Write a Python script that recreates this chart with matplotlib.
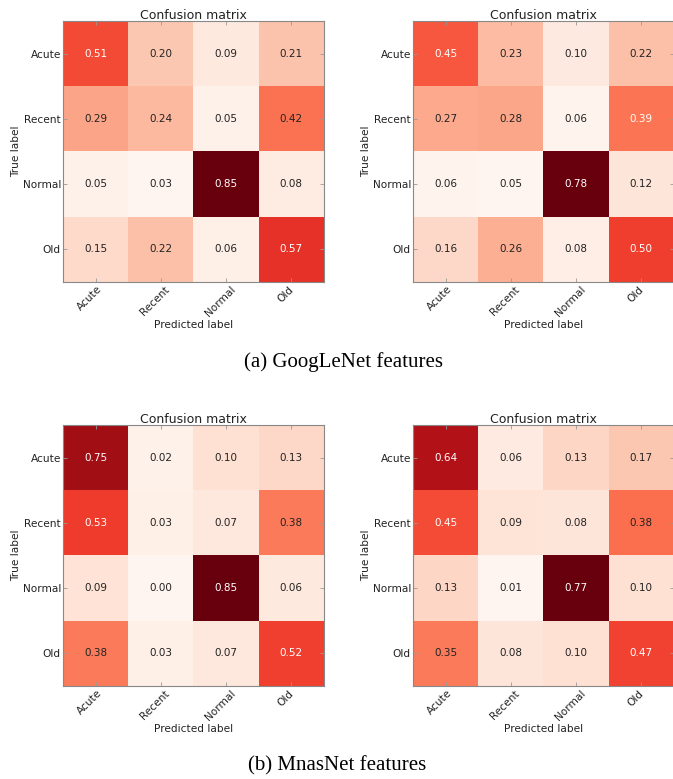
"""Four confusion matrices (GoogLeNet / MnasNet features), two per row."""

import matplotlib

matplotlib.use("Agg")
import matplotlib.pyplot as plt
import matplotlib.transforms as mtransforms
import numpy as np

classes = ["Acute", "Recent", "Normal", "Old"]

googlenet_left = [
    [0.51, 0.20, 0.09, 0.21],
    [0.29, 0.24, 0.05, 0.42],
    [0.05, 0.03, 0.85, 0.08],
    [0.15, 0.22, 0.06, 0.57],
]
googlenet_right = [
    [0.45, 0.23, 0.10, 0.22],
    [0.27, 0.28, 0.06, 0.39],
    [0.06, 0.05, 0.78, 0.12],
    [0.16, 0.26, 0.08, 0.50],
]
mnasnet_left = [
    [0.75, 0.02, 0.10, 0.13],
    [0.53, 0.03, 0.07, 0.38],
    [0.09, 0.00, 0.85, 0.06],
    [0.38, 0.03, 0.07, 0.52],
]
mnasnet_right = [
    [0.64, 0.06, 0.13, 0.17],
    [0.45, 0.09, 0.08, 0.38],
    [0.13, 0.01, 0.77, 0.10],
    [0.35, 0.08, 0.10, 0.47],
]

captions = ["(a) GoogLeNet features", "(b) MnasNet features"]

TXT = "#222222"


def plot_confusion(fig, ax, cm, labels):
    cm = np.asarray(cm)
    ax.imshow(cm, interpolation="nearest", cmap="Reds", aspect="auto")
    ax.set_title("Confusion matrix", fontsize=9, pad=1.5, color=TXT)
    ticks = np.arange(len(labels))
    ax.set_xticks(ticks)
    ax.set_xticklabels(labels, rotation=45, ha="center", va="top")
    ax.set_yticks(ticks)
    ax.set_yticklabels(labels)
    ax.tick_params(labelsize=7.6, length=3, width=0.6, color="#999999",
                   labelcolor=TXT, direction="in", top=True, right=True)
    ax.tick_params(axis="x", pad=1.5)
    ax.tick_params(axis="y", pad=1.5)
    shift = mtransforms.ScaledTranslation(-6 / 100, 0, fig.dpi_scale_trans)
    for lab in ax.get_xticklabels():
        lab.set_transform(lab.get_transform() + shift)
    thresh = cm.max() / 2.0
    for i in range(cm.shape[0]):
        for j in range(cm.shape[1]):
            ax.text(j, i, f"{cm[i, j]:.2f}", ha="center", va="center",
                    fontsize=7.5,
                    color="white" if cm[i, j] > thresh - 1e-9 else TXT)
    ax.set_ylabel("True label", fontsize=7.6, color=TXT, labelpad=1)
    ax.set_xlabel("Predicted label", fontsize=7.6, color=TXT, labelpad=1)
    for s in ax.spines.values():
        s.set_color("#888888")
        s.set_linewidth(0.8)


W, H = 673, 779
fig = plt.figure(figsize=(W / 100, H / 100), dpi=100)

size = 261
boxes = [
    (63, 21, googlenet_left),
    (413, 21, googlenet_right),
    (63, 425, mnasnet_left),
    (413, 425, mnasnet_right),
]
for x0, y0, cm in boxes:
    ax = fig.add_axes([x0 / W, 1 - (y0 + size) / H, size / W, size / H])
    plot_confusion(fig, ax, cm, classes)

fig.text(343 / W, 1 - 362 / H, captions[0], ha="center", va="center",
         family="Liberation Serif", fontsize=15)
fig.text(337 / W, 1 - 766 / H, captions[1], ha="center", va="center",
         family="Liberation Serif", fontsize=15)

fig.savefig("out.png", dpi=100)
